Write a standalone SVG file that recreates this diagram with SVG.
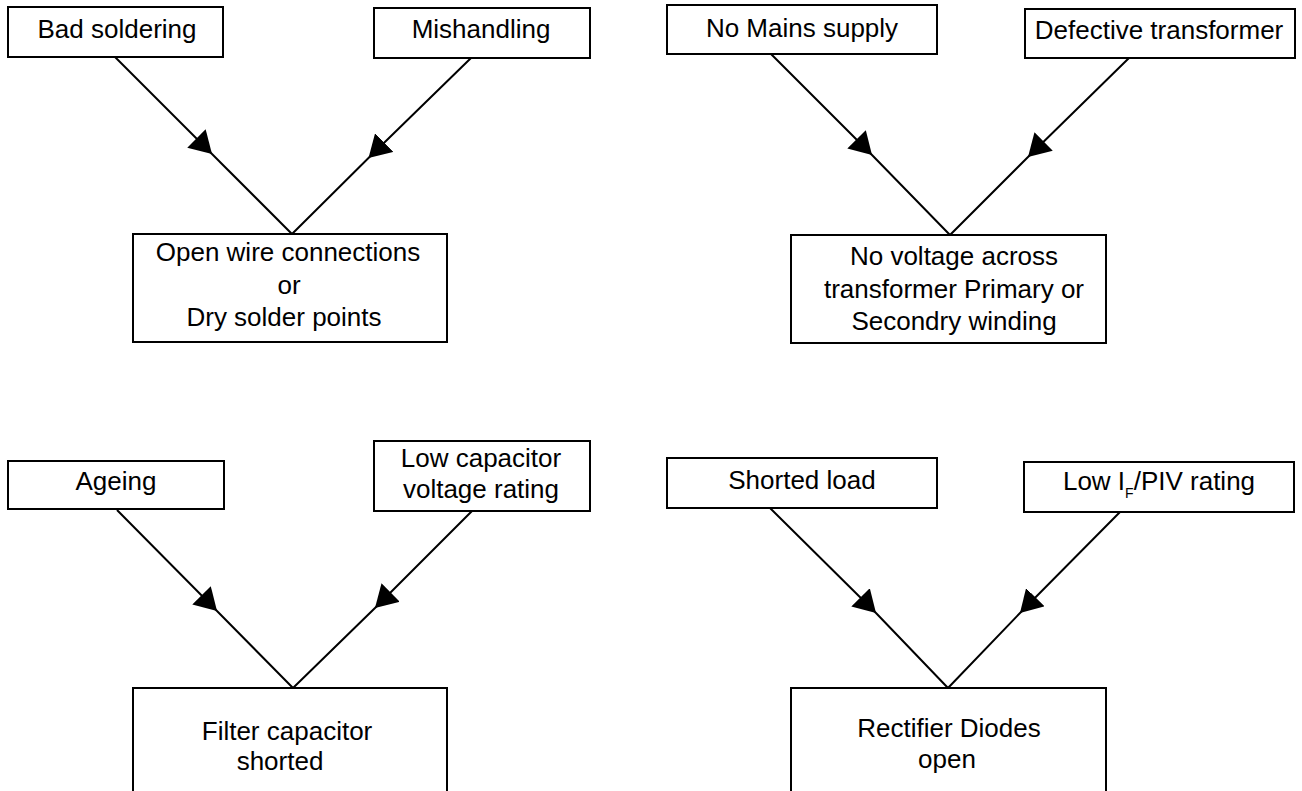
<svg xmlns="http://www.w3.org/2000/svg" width="1302" height="791" viewBox="0 0 1302 791">
<style>
.box{fill:#fff;stroke:#000;stroke-width:2}
.t{font-family:"Liberation Sans",Arial,sans-serif;font-size:26px;fill:#000;text-anchor:middle}
.c{fill:none;stroke:#000;stroke-width:2;marker-mid:url(#arr)}
</style>
<defs>
<marker id="arr" markerUnits="userSpaceOnUse" viewBox="0 0 22 26" markerWidth="22" markerHeight="26" refX="22" refY="13" orient="auto">
<path d="M0,0 L22,13 L0,26 Z" fill="#000"/>
</marker>
</defs>
<rect width="1302" height="791" fill="#fff"/>
<g id="connectors">
<path class="c" d="M115,57 L212,154 L292,234"/>
<path class="c" d="M471,58 L368.5,158 L292,234"/>
<path class="c" d="M771,54 L872,155 L950,235"/>
<path class="c" d="M1129,58 L1028,157 L950,235"/>
<path class="c" d="M117,510 L217,611 L293,688"/>
<path class="c" d="M472,511 L375,608 L293,688"/>
<path class="c" d="M770,508 L876,613 L948,688"/>
<path class="c" d="M1120,512 L1020,613 L948,688"/>
</g>
<g id="bad-soldering"><rect class="box" x="8" y="7" width="215" height="50"/><text class="t" x="117" y="38">Bad soldering</text></g>
<g id="mishandling"><rect class="box" x="374" y="8" width="216" height="50"/><text class="t" x="481" y="38">Mishandling</text></g>
<g id="open-wire"><rect class="box" x="133" y="234" width="314" height="108"/>
<text class="t" x="288" y="261">Open wire connections</text>
<text class="t" x="289" y="294">or</text>
<text class="t" x="284" y="326">Dry solder points</text></g>
<g id="no-mains"><rect class="box" x="667" y="5" width="270" height="49"/><text class="t" x="802" y="37">No Mains supply</text></g>
<g id="defective-transformer"><rect class="box" x="1025" y="9" width="270" height="49"/><text class="t" x="1159" y="39">Defective transformer</text></g>
<g id="no-voltage"><rect class="box" x="791" y="235" width="315" height="108"/>
<text class="t" x="954" y="265">No voltage across</text>
<text class="t" x="954" y="298">transformer  Primary or</text>
<text class="t" x="954" y="330">Secondry winding</text></g>
<g id="ageing"><rect class="box" x="8" y="461" width="216" height="48"/><text class="t" x="116" y="490">Ageing</text></g>
<g id="low-capacitor"><rect class="box" x="374" y="441" width="216" height="70"/>
<text class="t" x="481" y="467">Low capacitor</text>
<text class="t" x="481" y="498">voltage rating</text></g>
<g id="filter-capacitor"><rect class="box" x="133" y="688" width="314" height="120"/>
<text class="t" x="287" y="740">Filter capacitor</text>
<text class="t" x="280" y="770">shorted</text></g>
<g id="shorted-load"><rect class="box" x="667" y="458" width="270" height="50"/><text class="t" x="802" y="489">Shorted load</text></g>
<g id="low-if"><rect class="box" x="1024" y="462" width="270" height="50"/>
<text class="t" x="1159" y="490">Low I<tspan font-size="14" dy="8">F</tspan><tspan dy="-8">/PIV rating</tspan></text></g>
<g id="rectifier-diodes"><rect class="box" x="791" y="688" width="315" height="120"/>
<text class="t" x="949" y="737">Rectifier Diodes</text>
<text class="t" x="947" y="768">open</text></g>
</svg>
